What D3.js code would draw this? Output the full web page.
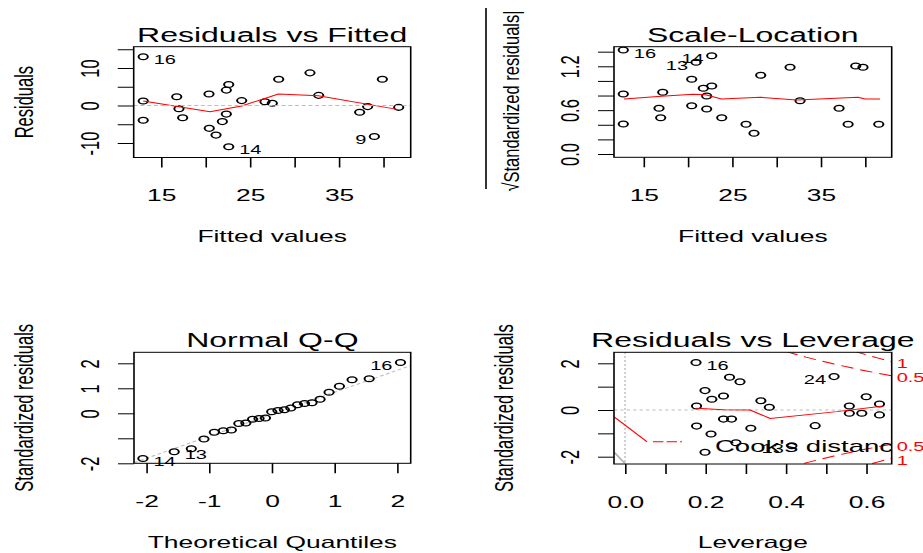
<!DOCTYPE html>
<html><head><meta charset="utf-8">
<script src="https://cdn.jsdelivr.net/npm/d3@7/dist/d3.min.js"></script>
<style>
html,body{margin:0;padding:0;background:#fff;}
svg{display:block;}
</style></head>
<body>
<svg id="chart" width="923" height="553"></svg>
<script>
// ================= DATA =================
// Panel 1: Residuals vs Fitted
const rvfFitted = [13.0, 13.0, 13.0, 16.77, 17.02, 17.44, 20.40, 20.43, 21.19, 21.90, 22.35, 22.35, 22.62, 22.62, 24.08, 26.70, 27.52, 28.24, 31.76, 32.74, 37.35, 38.25, 39.0, 39.9, 41.74];
const rvfResid  = [13.0, 1.2, -3.95, 2.35, -0.85, -3.25, 3.05, -6.1, -7.9, -4.3, -2.3, 4.1, 5.6, -11.0, 1.3, 1.0, 0.6, 7.0, 8.7, 2.7, -1.8, -0.3, -8.25, 7.0, -0.5];
const rvfSmoothX = [13.0, 20.51, 24.08, 28.2, 32.7, 41.74];
const rvfSmoothY = [1.2, -1.65, -0.13, 3.07, 2.61, -1.1];
const rvfLabelIdx = [0, 13, 22];
const rvfLabelTxt = ["16", "14", "9"];

// Panel 2: Scale-Location
const slFitted = [12.72, 12.72, 12.72, 16.75, 16.94, 17.17, 20.44, 20.44, 20.93, 21.75, 22.13, 22.13, 22.70, 22.70, 23.83, 26.57, 27.47, 28.23, 31.54, 32.67, 37.07, 38.09, 38.95, 39.77, 41.55];
const slValue  = [1.423, 0.821, 0.410, 0.625, 0.497, 0.844, 1.022, 0.661, 1.254, 0.899, 0.793, 0.616, 1.345, 0.930, 0.497, 0.406, 0.283, 1.077, 1.186, 0.729, 0.625, 0.406, 1.204, 1.186, 0.406];
const slSmoothX = [12.8, 17.0, 20.6, 22.0, 23.8, 28.2, 32.3, 39.2, 40.0, 41.7];
const slSmoothY = [0.752, 0.79, 0.817, 0.81, 0.752, 0.776, 0.739, 0.776, 0.752, 0.752];
const slLabelIdx = [0, 8, 12];
const slLabelTxt = ["16", "13", "14"];

// Panel 3: Normal Q-Q
const qqTheo   = [-2.054, -1.555, -1.282, -1.080, -0.915, -0.772, -0.643, -0.524, -0.412, -0.305, -0.202, -0.100, 0, 0.100, 0.202, 0.305, 0.412, 0.524, 0.643, 0.772, 0.915, 1.080, 1.282, 1.555, 2.054];
const qqSample = [-1.81, -1.54, -1.42, -1.03, -0.76, -0.70, -0.67, -0.41, -0.39, -0.24, -0.21, -0.19, 0.06, 0.11, 0.14, 0.21, 0.34, 0.39, 0.42, 0.56, 0.84, 1.08, 1.34, 1.38, 2.03];
const qqLineIntercept = -0.04;
const qqLineSlope = 0.88;
const qqLabelIdx = [0, 1, 24];
const qqLabelTxt = ["14", "13", "16"];

// Panel 4: Residuals vs Leverage
const levH = [0.1766, 0.199, 0.216, 0.245, 0.26, 0.286, 0.178, 0.178, 0.214, 0.245, 0.265, 0.276, 0.199, 0.313, 0.338, 0.359, 0.415, 0.473, 0.520, 0.558, 0.558, 0.589, 0.60, 0.633, 0.633];
const levS = [2.03, 0.83, 0.46, 0.60, 1.40, 1.21, 0.17, -0.69, -1.03, -0.39, -0.39, -1.40, -1.81, -0.78, 0.40, 0.12, -1.53, -0.67, 1.43, 0.17, -0.14, -0.14, 0.57, 0.26, -0.21];
const levSmoothX = [0.178, 0.245, 0.311, 0.361, 0.527, 0.643];
const levSmoothY = [0.07, 0.01, 0.0, -0.36, -0.07, 0.17];
const levLabelIdx = [0, 18, 16];
const levLabelTxt = ["16", "24", "13"];
// Cook's distance contours (|std. residual| against leverage)
const cook05H = [0.40, 0.42, 0.45, 0.48, 0.52, 0.56, 0.60, 0.6634];
const cook05S = [2.51, 2.408, 2.265, 2.133, 1.969, 1.817, 1.673, 1.461];
const cook1H  = [0.57, 0.60, 0.63, 0.6634];
const cook1S  = [2.517, 2.366, 2.221, 2.066];
const cookLevels = ["0.5", "1"];

// Axis ticks
const fitTicks = [15, 20, 25, 30, 35, 40], fitTickLabels = [15, 25, 35];
const resTicks = [-10, -5, 0, 5, 10, 15], resTickLabels = [-10, 0, 10];
const slTicks = [0, 0.2, 0.4, 0.6, 0.8, 1.0, 1.2, 1.4], slTickLabels = [0, 0.6, 1.2];
const qqXTicks = [-2, -1, 0, 1, 2], qqXTickLabels = [-2, -1, 0, 1, 2];
const qqYTicks = [-2, -1, 0, 1, 2], qqYTickLabels = [-2, 0, 1, 2];
const levXTicks = [0, 0.1, 0.2, 0.3, 0.4, 0.5, 0.6], levXTickLabels = [0, 0.2, 0.4, 0.6];
const levYTicks = [-2, -1, 0, 1, 2], levYTickLabels = [-2, 0, 2];

// ================= DRAWING =================
const SX = 1.6;                 // horizontal stretch of the original picture
const X = px => px / SX;        // final-pixel -> inner units
const FONT = '"Liberation Sans", Arial, Helvetica, sans-serif';
const RED = "#ff0000", GREY = "#bebebe";

const svg = d3.select("#chart");
svg.append("rect").attr("width", 923).attr("height", 553).attr("fill", "#fff");
const root = svg.append("g").attr("transform", `scale(${SX},1)`)
  .attr("font-family", FONT);

function panel(p) {
  const g = root.append("g");
  const x = d3.scaleLinear().domain(p.xDomain).range([X(p.L), X(p.R)]);
  const y = d3.scaleLinear().domain(p.yDomain).range([p.B, p.T]);
  const clipId = "clip-" + p.key;
  g.append("clipPath").attr("id", clipId).append("rect")
    .attr("x", X(p.L)).attr("y", p.T).attr("width", X(p.R) - X(p.L)).attr("height", p.B - p.T);
  const inner = g.append("g").attr("clip-path", `url(#${clipId})`);

  const xa = g.append("g").attr("transform", `translate(0,${p.B})`)
    .call(d3.axisBottom(x).tickValues(p.xTicks).tickSize(10).tickSizeOuter(0).tickPadding(22)
      .tickFormat(d => p.xLabels.includes(d) ? p.xFmt(d) : ""));
  xa.select(".domain").remove();
  xa.attr("font-size", 16.5).attr("font-family", FONT);
  xa.selectAll(".tick line").attr("stroke", "#000");
  xa.selectAll(".tick text").attr("fill", "#000");

  const ya = g.append("g").attr("transform", `translate(${X(p.L)},0)`)
    .call(d3.axisLeft(y).tickValues(p.yTicks).tickSize(10).tickSizeOuter(0)
      .tickFormat(d => p.yLabels.includes(d) ? p.yFmt(d) : ""));
  ya.select(".domain").remove();
  ya.attr("font-size", 16.5).attr("font-family", FONT);
  ya.selectAll(".tick line").attr("stroke", "#000");
  ya.selectAll(".tick text").attr("fill", "#000")
    .attr("x", null).attr("dy", null)
    .attr("transform", `translate(${-X(44)},0) rotate(-90)`)
    .attr("text-anchor", "middle").attr("dominant-baseline", "central");

  g.append("rect").attr("x", X(p.L)).attr("y", p.T)
    .attr("width", X(p.R) - X(p.L)).attr("height", p.B - p.T)
    .attr("fill", "none").attr("stroke", "#000").attr("stroke-width", 1);

  g.append("text").attr("x", X((p.L + p.R) / 2)).attr("y", p.T - 5)
    .attr("text-anchor", "middle").attr("font-size", 20).text(p.title);
  g.append("text").attr("x", X((p.L + p.R) / 2)).attr("y", p.B + 84.5)
    .attr("text-anchor", "middle").attr("font-size", 16.5).text(p.xTitle);
  if (p.yTitle) {
    g.append("text").attr("transform", `translate(${X(p.L - 110)},${(p.T + p.B) / 2}) rotate(-90)`)
      .attr("text-anchor", "middle").attr("dominant-baseline", "central")
      .attr("font-size", 16.5).text(p.yTitle);
  }
  return { g, inner, x, y };
}

function points(P, xs, ys) {
  P.inner.append("g").selectAll("circle").data(xs).join("circle")
    .attr("cx", (d, i) => P.x(xs[i])).attr("cy", (d, i) => P.y(ys[i]))
    .attr("r", 2.9).attr("fill", "none").attr("stroke", "#000").attr("stroke-width", 1.25);
}
function polyline(P, xs, ys, color, dash) {
  const line = d3.line().x(d => P.x(d[0])).y(d => P.y(d[1]));
  P.inner.append("path").datum(xs.map((v, i) => [v, ys[i]]))
    .attr("d", line).attr("fill", "none").attr("stroke", color).attr("stroke-width", 1)
    .attr("stroke-dasharray", dash || null);
}
function idLabels(P, xs, ys, idx, txt, sides) {
  idx.forEach((k, j) => {
    const right = sides[j] === "r";
    P.g.append("text")
      .attr("x", P.x(xs[k]) + (right ? X(10.5) : -X(8)))
      .attr("y", P.y(ys[k]) + 3.5)
      .attr("dominant-baseline", "central")
      .attr("text-anchor", right ? "start" : "end")
      .attr("font-size", 12.5).text(txt[j]);
  });
}

// ---- Panel 1 ----
const p1 = panel({
  key: "rvf", L: 133.7, R: 410.7, T: 46.7, B: 157.5,
  xDomain: [11.93, 43.09], yDomain: [-13.87, 15.68],
  xTicks: fitTicks, xLabels: fitTickLabels, xFmt: String,
  yTicks: resTicks, yLabels: resTickLabels, yFmt: String,
  title: "Residuals vs Fitted", xTitle: "Fitted values", yTitle: "Residuals"
});
points(p1, rvfFitted, rvfResid);
polyline(p1, rvfSmoothX, rvfSmoothY, RED);
p1.inner.append("line").attr("x1", X(133.7)).attr("x2", X(410.7))
  .attr("y1", p1.y(0)).attr("y2", p1.y(0))
  .attr("stroke", GREY).attr("stroke-dasharray", "2.5,1.7");
idLabels(p1, rvfFitted, rvfResid, rvfLabelIdx, rvfLabelTxt, ["r", "r", "l"]);

// ---- Panel 2 ----
const p2 = panel({
  key: "sl", L: 614, R: 891.7, T: 46.7, B: 157.3,
  xDomain: [11.67, 43.01], yDomain: [-0.045, 1.468],
  xTicks: fitTicks, xLabels: fitTickLabels, xFmt: String,
  yTicks: slTicks, yLabels: slTickLabels, yFmt: d3.format(".1f"),
  title: "Scale-Location", xTitle: "Fitted values", yTitle: null
});
points(p2, slFitted, slValue);
polyline(p2, slSmoothX, slSmoothY, RED);
idLabels(p2, slFitted, slValue, slLabelIdx, slLabelTxt, ["r", "l", "l"]);
// sqrt(|Standardized residuals|) axis title
p2.g.append("g").attr("transform", `translate(${X(511)},101) scale(0.85,1) rotate(-90)`)
  .append("text").attr("text-anchor", "middle").attr("dominant-baseline", "central")
  .attr("font-size", 16.5).text("√Standardized residuals|");
p2.g.append("line").attr("x1", X(486)).attr("x2", X(486)).attr("y1", 8).attr("y2", 189)
  .attr("stroke", "#000").attr("stroke-width", 1);

// ---- Panel 3 ----
const p3 = panel({
  key: "qq", L: 134, R: 410.7, T: 352.3, B: 463.3,
  xDomain: [-2.196, 2.217], yDomain: [-2.0, 2.44],
  xTicks: qqXTicks, xLabels: qqXTickLabels, xFmt: String,
  yTicks: qqYTicks, yLabels: qqYTickLabels, yFmt: String,
  title: "Normal Q-Q", xTitle: "Theoretical Quantiles", yTitle: "Standardized residuals"
});
{
  const xd = p3.x.domain();
  p3.inner.append("line")
    .attr("x1", p3.x(xd[0])).attr("y1", p3.y(qqLineIntercept + qqLineSlope * xd[0]))
    .attr("x2", p3.x(xd[1])).attr("y2", p3.y(qqLineIntercept + qqLineSlope * xd[1]))
    .attr("stroke", GREY).attr("stroke-dasharray", "2.5,1.7");
}
points(p3, qqTheo, qqSample);
idLabels(p3, qqTheo, qqSample, qqLabelIdx, qqLabelTxt, ["r", "r", "l"]);

// ---- Panel 4 ----
const p4 = panel({
  key: "lev", L: 614, R: 891.7, T: 352.3, B: 464,
  xDomain: [-0.0274, 0.6634], yDomain: [-2.313, 2.471],
  xTicks: levXTicks, xLabels: levXTickLabels, xFmt: d3.format(".1f"),
  yTicks: levYTicks, yLabels: levYTickLabels, yFmt: String,
  title: "Residuals vs Leverage", xTitle: "Leverage", yTitle: "Standardized residuals"
});
p4.inner.append("line").attr("x1", X(614)).attr("x2", X(891.7))
  .attr("y1", p4.y(0)).attr("y2", p4.y(0))
  .attr("stroke", GREY).attr("stroke-dasharray", "2,2");
p4.inner.append("line").attr("x1", p4.x(0)).attr("x2", p4.x(0))
  .attr("y1", 352.3).attr("y2", 464)
  .attr("stroke", GREY).attr("stroke-width", 1.2).attr("stroke-dasharray", "1.5,2.5");
points(p4, levH, levS);
polyline(p4, levSmoothX, levSmoothY, RED);
const cookDash = "8,4.5";
polyline(p4, cook05H, cook05S, RED, cookDash);
polyline(p4, cook05H, cook05S.map(v => -v), RED, cookDash);
polyline(p4, cook1H, cook1S, RED, cookDash);
polyline(p4, cook1H, cook1S.map(v => -v), RED, cookDash);
// contour labels in the right margin
[[cook05S, cookLevels[0]], [cook1S, cookLevels[1]]].forEach(([arr, lab]) => {
  [1, -1].forEach(sg => {
    p4.g.append("text").attr("x", X(891.7 + 5)).attr("y", p4.y(sg * arr[arr.length - 1]) + 2.5)
      .attr("dominant-baseline", "central").attr("fill", RED).attr("font-size", 12.5).text(lab);
  });
});
// legend-like marks at the lower left
p4.inner.append("line").attr("x1", X(614)).attr("y1", 416.7).attr("x2", X(647)).attr("y2", 441.7)
  .attr("stroke", RED).attr("stroke-width", 1);
p4.inner.append("line").attr("x1", X(653)).attr("y1", 441.7).attr("x2", X(682)).attr("y2", 441.7)
  .attr("stroke", RED).attr("stroke-width", 1).attr("stroke-dasharray", "6.5,2");
p4.inner.append("line").attr("x1", X(614)).attr("y1", 452).attr("x2", X(625)).attr("y2", 463.5)
  .attr("stroke", "#b0b0b0").attr("stroke-width", 1.3);
p4.inner.append("text").attr("x", X(715)).attr("y", 452.5)
  .attr("font-size", 17.2).text("Cook's distance");
idLabels(p4, levH, levS, levLabelIdx, levLabelTxt, ["r", "l", "l"]);
</script>
</body></html>
